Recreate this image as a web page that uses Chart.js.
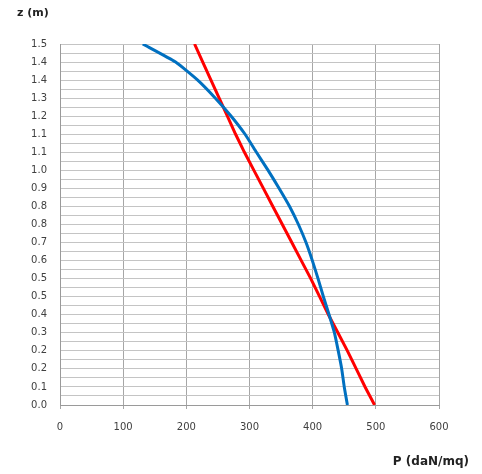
<!DOCTYPE html>
<html lang="it">
<head>
    <meta charset="UTF-8">
    <title>Pressione P - profondita z</title>
    <script src="https://cdn.jsdelivr.net/npm/chart.js@4.4.0/dist/chart.umd.min.js"></script>
    <style>
        body { margin: 0; background: #fff; }
    </style>
</head>
<body>
    <canvas id="chart" width="482" height="474"></canvas>
    <script>
    // depth z (m), one point every 0.075 m
    const zValues = [0, 0.075, 0.15, 0.225, 0.3, 0.375, 0.45, 0.525, 0.6, 0.675, 0.75,
                     0.825, 0.9, 0.975, 1.05, 1.125, 1.2, 1.275, 1.35, 1.425, 1.5];
    // P (daN/mq)
    const pBlue = [455, 450, 446, 440.5, 434.5, 426, 417, 408.5, 399.5, 389.5, 377.5,
                   363.5, 347, 329.5, 311, 293, 271, 246, 218, 183, 131];
    const pRed  = [498, 483, 469, 455, 440, 425, 411, 397, 382, 367, 352,
                   337, 322, 307, 292, 278, 265, 252, 239, 226, 213];
    // y labels as printed (every 0.075, rounded to one decimal)
    const yTickLabels = ['0.0', '0.1', '0.2', '0.2', '0.3', '0.4', '0.5', '0.5', '0.6', '0.7', '0.8',
                         '0.8', '0.9', '1.0', '1.1', '1.1', '1.2', '1.3', '1.4', '1.4', '1.5'];
    const xTicks = [0, 100, 200, 300, 400, 500, 600];

    // grid every 0.0375, label every second line
    const yGrid = [];
    for (let i = 0; i <= 40; i++) yGrid.push(i * 0.0375);

    const toPoints = (ps) => ps.map((p, i) => ({ x: p, y: zValues[i] }));

    Chart.defaults.font.family = "'DejaVu Sans', sans-serif";
    Chart.defaults.font.size = 10;
    Chart.defaults.color = '#404040';

    // axis captions
    const captions = {
        id: 'captions',
        afterDraw(chart) {
            const ctx = chart.ctx;
            ctx.save();
            ctx.fillStyle = '#222';
            ctx.textBaseline = 'middle';
            ctx.textAlign = 'left';
            ctx.font = "bold 11px 'DejaVu Sans', sans-serif";
            ctx.fillText('z (m)', 17, 13);
            ctx.textAlign = 'right';
            ctx.font = "bold 12px 'DejaVu Sans', sans-serif";
            ctx.fillText('P (daN/mq)', 469, 462);
            ctx.restore();
        }
    };

    const ctx = document.getElementById('chart').getContext('2d');
    const myChart = new Chart(ctx, {
        type: 'scatter',
        data: {
            datasets: [{
                label: 'blue',
                data: toPoints(pBlue),
                showLine: true,
                borderColor: 'rgb(0, 112, 192)',
                borderWidth: 3,
                pointRadius: 0,
                tension: 0.15
            }, {
                label: 'red',
                data: toPoints(pRed),
                showLine: true,
                borderColor: 'rgb(255, 0, 0)',
                borderWidth: 3,
                pointRadius: 0,
                tension: 0
            }]
        },
        options: {
            responsive: false,
            animation: false,
            layout: { padding: { top: 44, right: 43, left: 0, bottom: 34 } },
            plugins: {
                legend: { display: false },
                tooltip: { enabled: false }
            },
            scales: {
                x: {
                    type: 'linear',
                    min: 0,
                    max: 600,
                    afterBuildTicks: (scale) => { scale.ticks = xTicks.map(v => ({ value: v })); },
                    afterFit: (scale) => { scale.height = 35; },
                    grid: { color: '#a6a6a6', tickLength: 4, lineWidth: 1 },
                    border: { color: '#9a9a9a' },
                    ticks: { padding: 12, maxRotation: 0 }
                },
                y: {
                    type: 'linear',
                    min: 0,
                    max: 1.5,
                    afterBuildTicks: (scale) => { scale.ticks = yGrid.map(v => ({ value: v })); },
                    afterFit: (scale) => { scale.width = 60; },
                    grid: { color: '#c4c4c4', drawTicks: false, lineWidth: 1 },
                    border: { color: '#9a9a9a' },
                    ticks: {
                        autoSkip: false,
                        padding: 13,
                        callback: (v, i) => (i % 2 === 0 ? yTickLabels[i / 2] : '')
                    }
                }
            }
        },
        plugins: [captions]
    });
    </script>
</body>
</html>
